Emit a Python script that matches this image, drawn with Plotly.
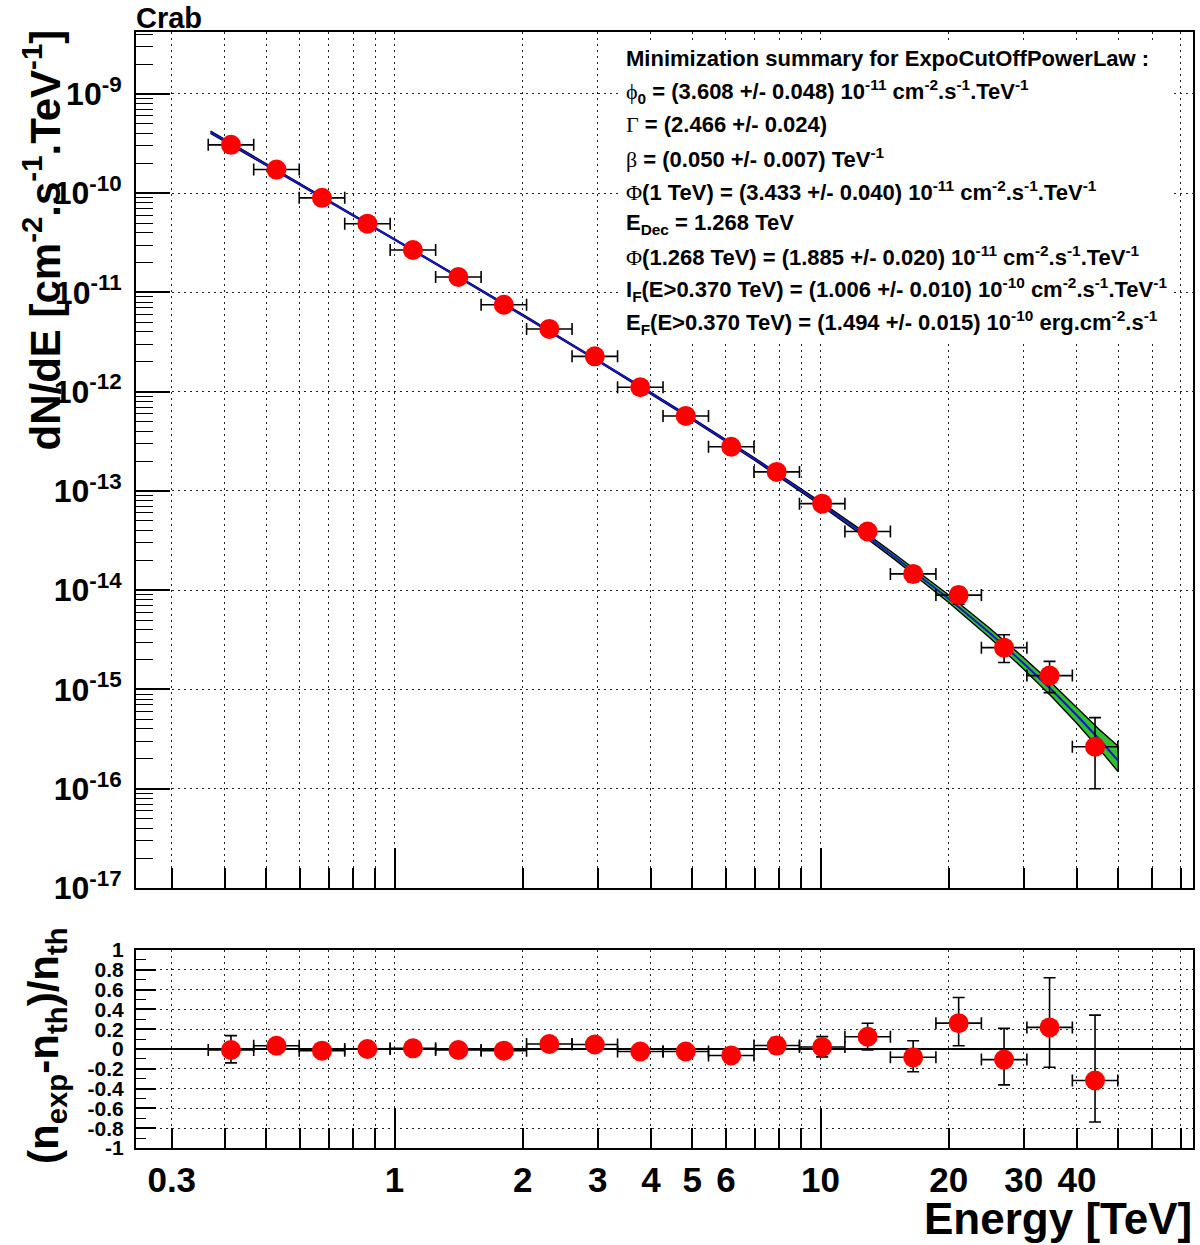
import plotly.graph_objects as go

# ---------------- data ----------------
energy = [0.4132, 0.5284, 0.6757, 0.8637, 1.1046, 1.4125, 1.8059, 2.309, 2.9527, 3.7752,
          4.8276, 6.1717, 7.8918, 10.09, 12.90, 16.50, 21.10, 26.97, 34.49, 44.10]
energy_lo = [0.3654, 0.4672, 0.5975, 0.7641, 0.9768, 1.249, 1.597, 2.042, 2.611, 3.339,
             4.269, 5.459, 6.980, 8.925, 11.41, 14.59, 18.66, 23.86, 30.51, 39.01]
energy_hi = [0.4672, 0.5975, 0.7641, 0.9768, 1.249, 1.597, 2.042, 2.611, 3.339, 4.269,
             5.459, 6.980, 8.925, 11.41, 14.59, 18.66, 23.86, 30.51, 39.01, 49.88]

flux = [3.07e-10, 1.73e-10, 8.98e-11, 4.93e-11, 2.68e-11, 1.43e-11, 7.52e-12, 4.29e-12,
        2.27e-12, 1.11e-12, 5.70e-13, 2.79e-13, 1.556e-13, 7.45e-14, 3.91e-14, 1.46e-14,
        8.93e-15, 2.64e-15, 1.38e-15, 2.65e-16]
flux_err_up = [4.4e-11, 6.8e-12, 3.6e-12, 2.0e-12, 1.1e-12, 5.7e-13, 3.4e-13, 2.2e-13,
               1.1e-13, 5.5e-14, 3.4e-14, 1.7e-14, 1.2e-14, 7.4e-15, 4.7e-15, 2.4e-15,
               1.7e-15, 9.2e-16, 5.4e-16, 2.55e-16]
flux_err_down = [4.4e-11, 6.8e-12, 3.6e-12, 2.0e-12, 1.1e-12, 5.7e-13, 3.4e-13, 2.2e-13,
                 1.1e-13, 5.5e-14, 3.4e-14, 1.7e-14, 1.2e-14, 7.4e-15, 4.7e-15, 2.4e-15,
                 1.7e-15, 7.7e-16, 4.5e-16, 1.65e-16]

residual = [-0.01, 0.033, -0.017, 0.0, 0.007, -0.01, -0.017, 0.05, 0.045, -0.025,
            -0.025, -0.065, 0.035, 0.02, 0.124, -0.084, 0.261, -0.107, 0.218, -0.318]
residual_err_up = [0.145, 0.04, 0.04, 0.04, 0.04, 0.04, 0.045, 0.05, 0.05, 0.05,
                   0.06, 0.06, 0.08, 0.105, 0.136, 0.168, 0.259, 0.315, 0.502, 0.66]
residual_err_down = [0.13, 0.04, 0.04, 0.04, 0.04, 0.04, 0.045, 0.05, 0.05, 0.05,
                     0.06, 0.06, 0.08, 0.10, 0.134, 0.146, 0.228, 0.255, 0.402, 0.419]

fit_energy = [0.37, 0.5, 0.7, 1, 1.5, 2, 3, 4, 5, 7, 10, 13, 15, 20, 25, 30, 35, 40, 45, 50]
fit_flux = [4.11e-10, 1.944e-10, 8.40e-11, 3.433e-11, 1.231e-11, 5.91e-12, 2.07e-12, 9.68e-13,
            5.31e-13, 2.10e-13, 7.48e-14, 3.38e-14, 2.14e-14, 8.21e-15, 3.69e-15, 1.83e-15,
            9.76e-16, 5.47e-16, 3.19e-16, 1.91e-16]
band_hi = [4.23e-10, 1.989e-10, 8.56e-11, 3.48e-11, 1.248e-11, 6.00e-12, 2.11e-12, 9.88e-13,
           5.43e-13, 2.16e-13, 7.79e-14, 3.57e-14, 2.28e-14, 8.96e-15, 4.12e-15, 2.09e-15,
           1.141e-15, 6.57e-16, 4.0e-16, 2.68e-16]
band_lo = [4.00e-10, 1.900e-10, 8.24e-11, 3.386e-11, 1.214e-11, 5.82e-12, 2.03e-12, 9.48e-13,
           5.19e-13, 2.04e-13, 7.18e-14, 3.20e-14, 2.01e-14, 7.53e-15, 3.30e-15, 1.60e-15,
           8.35e-16, 4.55e-16, 2.55e-16, 1.48e-16]

x_tickvals = [0.3, 0.4, 0.5, 0.6, 0.7, 0.8, 0.9, 1, 2, 3, 4, 5, 6, 7, 8, 9, 10, 20, 30, 40, 50, 60, 70]
x_ticktext = ["0.3", "", "", "", "", "", "", "1", "2", "3", "4", "5", "6", "", "", "", "10",
              "20", "30", "40", "", "", ""]
x_major = [1, 10]
y_tickvals = [1e-17, 1e-16, 1e-15, 1e-14, 1e-13, 1e-12, 1e-11, 1e-10, 1e-9]
y_ticktext = ["10<sup>-17</sup>", "10<sup>-16</sup>", "10<sup>-15</sup>", "10<sup>-14</sup>",
              "10<sup>-13</sup>", "10<sup>-12</sup>", "10<sup>-11</sup>", "10<sup>-10</sup>",
              "10<sup>-9</sup>"]
r_tickvals = [-1, -0.8, -0.6, -0.4, -0.2, 0, 0.2, 0.4, 0.6, 0.8, 1]
r_ticktext = ["-1", "-0.8", "-0.6", "-0.4", "-0.2", "0", "0.2", "0.4", "0.6", "0.8", "1"]

GREEK = '<span style="font-family:Liberation Serif;font-weight:normal">{}</span>'
summary_lines = [
    "Minimization summary for ExpoCutOffPowerLaw :",
    GREEK.format("ϕ") + "<sub>0</sub> = (3.608 +/- 0.048) 10<sup>-11</sup> cm<sup>-2</sup>.s<sup>-1</sup>.TeV<sup>-1</sup>",
    GREEK.format("Γ") + " = (2.466 +/- 0.024)",
    GREEK.format("β") + " = (0.050 +/- 0.007) TeV<sup>-1</sup>",
    GREEK.format("Φ") + "(1 TeV) = (3.433 +/- 0.040) 10<sup>-11</sup> cm<sup>-2</sup>.s<sup>-1</sup>.TeV<sup>-1</sup>",
    "E<sub>Dec</sub> = 1.268 TeV",
    GREEK.format("Φ") + "(1.268 TeV) = (1.885 +/- 0.020) 10<sup>-11</sup> cm<sup>-2</sup>.s<sup>-1</sup>.TeV<sup>-1</sup>",
    "I<sub>F</sub>(E&gt;0.370 TeV) = (1.006 +/- 0.010) 10<sup>-10</sup> cm<sup>-2</sup>.s<sup>-1</sup>.TeV<sup>-1</sup>",
    "E<sub>F</sub>(E&gt;0.370 TeV) = (1.494 +/- 0.015) 10<sup>-10</sup> erg.cm<sup>-2</sup>.s<sup>-1</sup>",
]

# ---------------- layout geometry ----------------
W, H = 1200, 1245
L, R, T, B = 136, 7, 32, 97
TOP_PANEL_BOTTOM = 888
BOT_PANEL_TOP = 950


def fx(px):
    return (px - L) / (W - L - R)


def fy(py):
    return (H - B - py) / (H - T - B)


FONT = "Liberation Sans, Arial, Helvetica, sans-serif"
GRIDDASH = "2px,4px"
GRIDCOLOR = "#222222"

xerr_plus = [h - e for h, e in zip(energy_hi, energy)]
xerr_minus = [e - l for e, l in zip(energy, energy_lo)]

fig = go.Figure()

# error band of the fit (polygon built from the band arrays)
fig.add_trace(go.Scatter(
    x=fit_energy + fit_energy[::-1], y=band_hi + band_lo[::-1],
    mode="lines", fill="toself", fillcolor="#2fbf2f",
    line=dict(color="black", width=1.4), xaxis="x", yaxis="y",
    showlegend=False, hoverinfo="skip"))
# fit line
fig.add_trace(go.Scatter(
    x=fit_energy, y=fit_flux, mode="lines",
    line=dict(color="#1414c8", width=2), xaxis="x", yaxis="y",
    showlegend=False))
# spectrum points
fig.add_trace(go.Scatter(
    x=energy, y=flux, mode="markers",
    marker=dict(color="#ff0000", size=20, line=dict(width=0)),
    error_x=dict(type="data", symmetric=False, array=xerr_plus, arrayminus=xerr_minus,
                 color="black", thickness=1.6, width=6),
    error_y=dict(type="data", symmetric=False, array=flux_err_up, arrayminus=flux_err_down,
                 color="black", thickness=1.6, width=6),
    xaxis="x", yaxis="y", showlegend=False))
# residual points
fig.add_trace(go.Scatter(
    x=energy, y=residual, mode="markers",
    marker=dict(color="#ff0000", size=20, line=dict(width=0)),
    error_x=dict(type="data", symmetric=False, array=xerr_plus, arrayminus=xerr_minus,
                 color="black", thickness=1.6, width=6),
    error_y=dict(type="data", symmetric=False, array=residual_err_up,
                 arrayminus=residual_err_down, color="black", thickness=1.6, width=6),
    xaxis="x2", yaxis="y2", showlegend=False))
# empty traces to attach the long major-tick overlay axes
fig.add_trace(go.Scatter(x=[None], y=[None], xaxis="x3", yaxis="y", showlegend=False,
                         hoverinfo="skip"))
fig.add_trace(go.Scatter(x=[None], y=[None], xaxis="x4", yaxis="y2", showlegend=False,
                         hoverinfo="skip"))

x_range = [-0.6068, 1.8744]
top_domain = [fy(TOP_PANEL_BOTTOM), 1.0]
bot_domain = [0.0, fy(BOT_PANEL_TOP)]

common_x = dict(type="log", range=x_range, tickmode="array", tickvals=x_tickvals,
                ticks="inside", ticklen=20, tickwidth=1.5, tickcolor="black",
                showgrid=True, gridcolor=GRIDCOLOR, griddash=GRIDDASH, gridwidth=1,
                showline=True, mirror=True, linecolor="black", linewidth=2,
                zeroline=False, automargin=False)

fig.update_layout(
    width=W, height=H,
    margin=dict(l=L, r=R, t=T, b=B, autoexpand=False),
    paper_bgcolor="white", plot_bgcolor="white",
    font=dict(family=FONT, color="black"),
    xaxis=dict(domain=[0, 1], anchor="y", showticklabels=False, **common_x),
    xaxis2=dict(domain=[0, 1], anchor="y2", showticklabels=True, ticktext=x_ticktext,
                tickfont=dict(size=35, family=FONT, weight="bold"), ticklabelstandoff=0,
                **common_x),
    xaxis3=dict(type="log", range=x_range, overlaying="x", anchor="y", side="bottom",
                tickmode="array", tickvals=x_major, ticks="inside", ticklen=40,
                tickwidth=1.5, tickcolor="black", showticklabels=False, showgrid=False,
                showline=False, zeroline=False),
    xaxis4=dict(type="log", range=x_range, overlaying="x2", anchor="y2", side="bottom",
                tickmode="array", tickvals=x_major, ticks="inside", ticklen=40,
                tickwidth=1.5, tickcolor="black", showticklabels=False, showgrid=False,
                showline=False, zeroline=False),
    yaxis=dict(domain=top_domain, anchor="x", type="log", range=[-17, -8.376],
               tickmode="array", tickvals=y_tickvals, ticktext=y_ticktext,
               ticks="inside", ticklen=34, tickwidth=1.5, tickcolor="black",
               minor=dict(ticks="inside", ticklen=17, dtick="D1", tickwidth=1.2,
                          tickcolor="black", showgrid=False),
               tickfont=dict(size=32, family=FONT, weight="bold"), ticklabelstandoff=6,
               showgrid=True, gridcolor=GRIDCOLOR, griddash=GRIDDASH, gridwidth=1,
               showline=True, mirror=True, linecolor="black", linewidth=2, zeroline=False,
               automargin=False),
    yaxis2=dict(domain=bot_domain, anchor="x2", range=[-1, 1],
                tickmode="array", tickvals=r_tickvals, ticktext=r_ticktext,
                ticks="inside", ticklen=20, tickwidth=1.5, tickcolor="black",
                minor=dict(ticks="inside", ticklen=10, tickmode="linear", tick0=0, dtick=0.1,
                           tickwidth=1.2, tickcolor="black", showgrid=False),
                tickfont=dict(size=21, family=FONT, weight="bold"), ticklabelstandoff=6,
                showgrid=True, gridcolor=GRIDCOLOR, griddash=GRIDDASH, gridwidth=1,
                zeroline=True, zerolinecolor="black", zerolinewidth=1.5,
                showline=True, mirror=True, linecolor="black", linewidth=2,
                automargin=False),
)

# white box behind the minimisation summary
fig.add_shape(type="rect", xref="paper", yref="paper",
              x0=fx(618), x1=fx(1172), y0=fy(340), y1=fy(44),
              fillcolor="white", line=dict(width=0), layer="above")

annotations = []
for i, line in enumerate(summary_lines):
    annotations.append(dict(
        text=line, xref="paper", yref="paper", x=fx(624), y=fy(59 + 32.9 * i),
        xanchor="left", yanchor="middle", showarrow=False, align="left",
        font=dict(size=22, family=FONT, weight="bold", color="black")))

annotations.append(dict(text="Crab", xref="paper", yref="paper", x=fx(134), y=fy(18),
                        xanchor="left", yanchor="middle", showarrow=False,
                        font=dict(size=29, family=FONT, weight="bold")))
annotations.append(dict(text="Energy [TeV]", xref="paper", yref="paper", x=fx(1194),
                        y=fy(1218), xanchor="right", yanchor="middle", showarrow=False,
                        font=dict(size=44, family=FONT, weight="bold")))
annotations.append(dict(text="dN/dE [cm<sup>-2</sup>.s<sup>-1</sup>.TeV<sup>-1</sup>]",
                        xref="paper", yref="paper", x=fx(42), y=fy(28), textangle=-90,
                        xanchor="center", yanchor="top", showarrow=False,
                        font=dict(size=42, family=FONT, weight="bold")))
annotations.append(dict(text="(n<sub>exp</sub>-n<sub>th</sub>)/n<sub>th</sub>",
                        xref="paper", yref="paper", x=fx(46), y=fy(1046), textangle=-90,
                        xanchor="center", yanchor="middle", showarrow=False,
                        font=dict(size=42, family=FONT, weight="bold")))
fig.update_layout(annotations=annotations)

fig.write_html("out.html", config={"displayModeBar": False},
               post_script="document.body.style.margin='0';document.body.style.overflow='hidden';")
